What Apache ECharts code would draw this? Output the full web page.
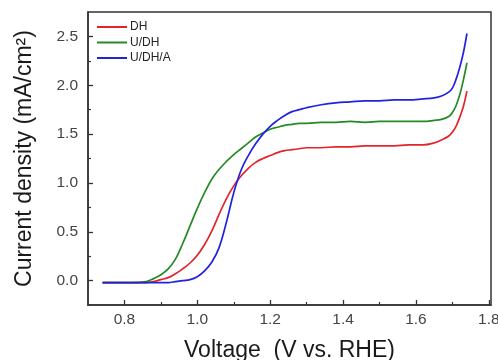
<!DOCTYPE html>
<html>
<head>
<meta charset="utf-8">
<script src="https://cdn.jsdelivr.net/npm/echarts@6/dist/echarts.min.js"></script>
<style>
html,body{margin:0;padding:0;background:#fff;}
#chart{width:498px;height:360px;}
</style>
</head>
<body>
<div id="chart"></div>
<script>
const voltage = [0.74,0.78,0.82,0.86,0.88,0.90,0.92,0.94,0.96,0.98,1.00,1.02,1.04,1.06,1.08,1.10,1.12,1.14,1.16,1.18,1.20,1.22,1.24,1.26,1.28,1.30,1.34,1.38,1.42,1.46,1.50,1.54,1.58,1.62,1.65,1.67,1.69,1.70,1.71,1.72,1.73,1.74];
const dh = [-0.02,-0.02,-0.02,-0.02,-0.01,0.01,0.03,0.07,0.12,0.18,0.26,0.37,0.51,0.68,0.84,0.97,1.07,1.15,1.21,1.25,1.28,1.31,1.33,1.34,1.35,1.36,1.36,1.37,1.37,1.38,1.38,1.38,1.39,1.39,1.41,1.44,1.48,1.52,1.58,1.67,1.78,1.94];
const udh = [-0.02,-0.02,-0.02,-0.01,0.02,0.06,0.12,0.22,0.38,0.56,0.74,0.90,1.04,1.14,1.22,1.29,1.35,1.41,1.47,1.51,1.55,1.57,1.59,1.60,1.61,1.61,1.62,1.62,1.63,1.62,1.63,1.63,1.63,1.63,1.64,1.65,1.68,1.72,1.79,1.90,2.05,2.23];
const udha = [-0.02,-0.02,-0.02,-0.02,-0.02,-0.02,-0.02,-0.01,0.00,0.01,0.04,0.10,0.19,0.34,0.60,0.90,1.13,1.28,1.40,1.50,1.58,1.64,1.69,1.73,1.75,1.77,1.80,1.82,1.83,1.84,1.84,1.85,1.85,1.86,1.87,1.89,1.93,1.97,2.06,2.18,2.33,2.53];
const seriesNames = ['DH','U/DH','U/DH/A'];
const xTicks = [0.8,1.0,1.2,1.4,1.6,1.8];
const xMinorTicks = [0.9,1.1,1.3,1.5,1.7];
const yTicks = [0.0,0.5,1.0,1.5,2.0,2.5];
const yMinorTicks = [0.25,0.75,1.25,1.75,2.25];

const colors = ['#e3242b','#248a24','#2222e0'];
const font = 'Liberation Sans, Arial, sans-serif';
const axisColor = '#333';
const pair = vals => voltage.map((v,i)=>[v, vals[i]]);

const chart = echarts.init(document.getElementById('chart'), null, {renderer:'canvas'});
const X_MIN = 0.7, X_MAX = 1.806, Y_MIN = -0.25, Y_MAX = 2.75;

chart.setOption({
  animation:false,
  backgroundColor:'#fff',
  textStyle:{fontFamily:font},
  grid:{left:88, right:7, top:12, bottom:55, containLabel:false, outerBoundsMode:'none',
        show:true, borderColor:axisColor, borderWidth:1.5, backgroundColor:'transparent'},
  legend:{
    orient:'vertical', left:97, top:21, padding:0,
    itemWidth:30, itemHeight:2, itemGap:3.5, icon:'rect',
    textStyle:{fontSize:12, color:'#222', fontFamily:font, lineHeight:12, padding:[0,0,0,-2]},
    data:seriesNames
  },
  xAxis:[{
    type:'value', min:X_MIN, max:X_MAX,
    name:'Voltage  (V vs. RHE)', nameLocation:'middle', nameGap:34,
    nameTextStyle:{fontSize:23, color:'#1a1a1a', fontFamily:font},
    axisLine:{onZero:false, lineStyle:{color:axisColor, width:1.5}},
    axisTick:{inside:true, length:5, customValues:xTicks, lineStyle:{color:axisColor, width:1.3}},
    axisLabel:{customValues:xTicks, fontSize:15.5, color:'#444', margin:7, formatter:v=>v.toFixed(1)},
    splitLine:{show:false}
  },{
    type:'value', min:X_MIN, max:X_MAX, position:'bottom',
    axisLine:{show:false, onZero:false},
    axisTick:{inside:true, length:3, customValues:xMinorTicks, lineStyle:{color:axisColor, width:1.2}},
    axisLabel:{show:false}, splitLine:{show:false}
  }],
  yAxis:[{
    type:'value', min:Y_MIN, max:Y_MAX,
    name:'Current density (mA/cm²)', nameLocation:'middle', nameGap:52,
    nameTextStyle:{fontSize:23, color:'#1a1a1a', fontFamily:font},
    axisLine:{show:true, onZero:false, lineStyle:{color:axisColor, width:1.5}},
    axisTick:{show:true, inside:true, length:5, customValues:yTicks, lineStyle:{color:axisColor, width:1.3}},
    axisLabel:{customValues:yTicks, fontSize:15.5, color:'#444', margin:10, formatter:v=>v.toFixed(1)},
    splitLine:{show:false}
  },{
    type:'value', min:Y_MIN, max:Y_MAX, position:'left',
    axisLine:{show:false, onZero:false},
    axisTick:{show:true, inside:true, length:3, customValues:yMinorTicks, lineStyle:{color:axisColor, width:1.2}},
    axisLabel:{show:false}, splitLine:{show:false}
  }],
  series:[dh, udh, udha].map((vals,i)=>({
    name:seriesNames[i], type:'line', data:pair(vals),
    xAxisIndex:0, yAxisIndex:0,
    showSymbol:false, symbol:'none', smooth:0.4,
    lineStyle:{color:colors[i], width:1.7},
    itemStyle:{color:colors[i]}
  }))
});
</script>
</body>
</html>
